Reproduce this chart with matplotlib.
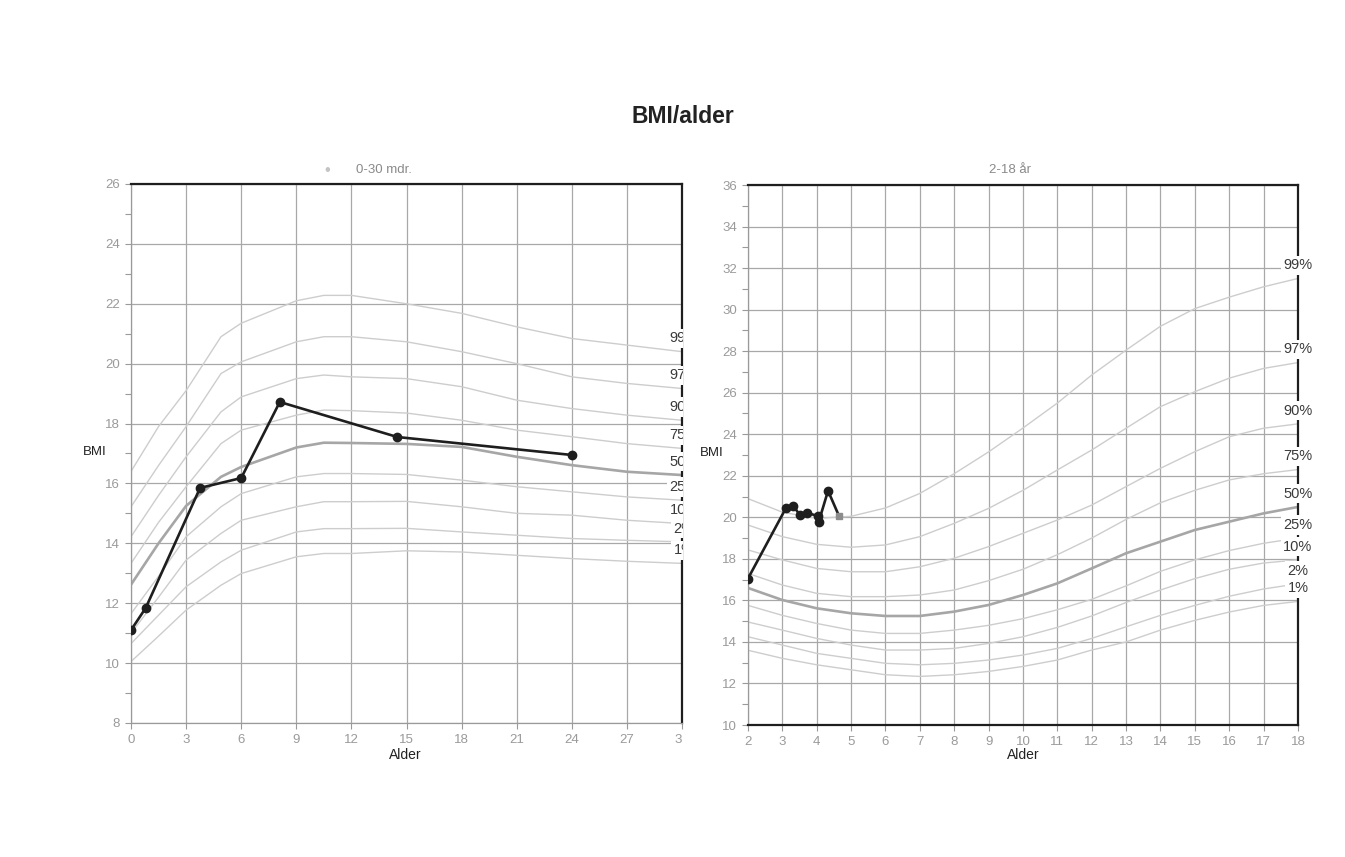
import matplotlib
matplotlib.use("Agg")
import matplotlib.pyplot as plt
from matplotlib.transforms import Bbox, TransformedBbox

plt.rcParams["font.family"] = ["Liberation Sans", "DejaVu Sans"]

# ---- 0-30 months: reference percentiles (BMI) ----
months = [0, 1.5, 3, 4.9, 6, 9, 10.5, 12, 15, 18, 21, 24, 27, 30]
m_p99 = [16.4, 17.9, 19.1, 20.9, 21.35, 22.1, 22.28, 22.28, 22.0, 21.68, 21.23, 20.84, 20.62, 20.4]
m_p97 = [15.22, 16.6, 17.9, 19.67, 20.06, 20.73, 20.9, 20.9, 20.73, 20.4, 20.0, 19.56, 19.34, 19.17]
m_p90 = [14.22, 15.6, 16.89, 18.39, 18.89, 19.5, 19.62, 19.56, 19.5, 19.23, 18.78, 18.5, 18.28, 18.11]
m_p75 = [13.33, 14.7, 15.89, 17.33, 17.78, 18.28, 18.45, 18.43, 18.35, 18.11, 17.78, 17.56, 17.33, 17.17]
m_p50 = [12.62, 14.0, 15.25, 16.22, 16.55, 17.2, 17.36, 17.35, 17.32, 17.22, 16.89, 16.61, 16.39, 16.28]
m_p25 = [11.65, 12.9, 14.22, 15.22, 15.66, 16.22, 16.33, 16.33, 16.3, 16.11, 15.89, 15.72, 15.55, 15.44]
m_p10 = [11.0, 12.2, 13.44, 14.33, 14.77, 15.22, 15.39, 15.39, 15.4, 15.22, 15.0, 14.94, 14.77, 14.66]
m_p2 = [10.65, 11.6, 12.55, 13.38, 13.77, 14.38, 14.49, 14.49, 14.5, 14.38, 14.27, 14.16, 14.1, 14.05]
m_p1 = [10.05, 10.9, 11.77, 12.6, 12.99, 13.55, 13.66, 13.66, 13.75, 13.71, 13.6, 13.49, 13.4, 13.33]

# measurements, months
baby_age = [0, 0.8, 3.76, 6.0, 8.1, 14.5, 24.0]
baby_bmi = [11.1, 11.84, 15.85, 16.18, 18.72, 17.55, 16.95]

# ---- 2-18 years: reference percentiles (BMI) ----
years = [2, 3, 4, 5, 6, 7, 8, 9, 10, 11, 12, 13, 14, 15, 16, 17, 18]
y_p99 = [20.9, 20.25, 19.95, 20.05, 20.45, 21.15, 22.1, 23.15, 24.3, 25.5, 26.85, 28.05, 29.2, 30.05, 30.6, 31.1, 31.5]
y_p97 = [19.63, 19.07, 18.7, 18.56, 18.67, 19.07, 19.71, 20.43, 21.3, 22.28, 23.24, 24.29, 25.33, 26.05, 26.7, 27.17, 27.45]
y_p90 = [18.43, 17.95, 17.54, 17.38, 17.38, 17.62, 18.03, 18.59, 19.23, 19.87, 20.59, 21.48, 22.36, 23.16, 23.88, 24.29, 24.5]
y_p75 = [17.3, 16.74, 16.34, 16.18, 16.18, 16.26, 16.5, 16.95, 17.5, 18.2, 19.0, 19.9, 20.7, 21.3, 21.8, 22.1, 22.3]
y_p50 = [16.6, 16.02, 15.62, 15.38, 15.25, 15.25, 15.46, 15.78, 16.26, 16.82, 17.54, 18.27, 18.83, 19.39, 19.79, 20.19, 20.5]
y_p25 = [15.76, 15.28, 14.89, 14.57, 14.41, 14.41, 14.57, 14.8, 15.12, 15.55, 16.05, 16.7, 17.4, 17.95, 18.4, 18.75, 19.0]
y_p10 = [14.96, 14.57, 14.17, 13.85, 13.61, 13.61, 13.69, 13.93, 14.25, 14.7, 15.25, 15.9, 16.5, 17.05, 17.5, 17.8, 17.95]
y_p2 = [14.25, 13.85, 13.45, 13.21, 12.97, 12.9, 12.97, 13.13, 13.37, 13.69, 14.17, 14.73, 15.28, 15.76, 16.2, 16.55, 16.8]
y_p1 = [13.6, 13.21, 12.9, 12.66, 12.42, 12.34, 12.42, 12.58, 12.82, 13.13, 13.61, 14.0, 14.57, 15.04, 15.44, 15.76, 15.95]

kid_age = [2.0, 3.1, 3.32, 3.51, 3.72, 4.03, 4.06, 4.33, 4.65]
kid_bmi = [17.05, 20.43, 20.55, 20.11, 20.22, 20.06, 19.79, 21.28, 20.06]

pct_names = ["99%", "97%", "90%", "75%", "50%", "25%", "10%", "2%", "1%"]
infant_curves = [m_p99, m_p97, m_p90, m_p75, m_p50, m_p25, m_p10, m_p2, m_p1]
child_curves = [y_p99, y_p97, y_p90, y_p75, y_p50, y_p25, y_p10, y_p2, y_p1]

GRID = "#a8a8a8"
CURVE = "#cdcdcd"
MEDIAN = "#a6a6a6"
TICK = "#9a9a9a"
DARK = "#1e1e1e"

fig = plt.figure(figsize=(13.45, 8.57), dpi=100)
ax1 = fig.add_axes([0.0974, 0.1564, 0.4097, 0.6289])
ax2 = fig.add_axes([0.5561, 0.1540, 0.4089, 0.6301])


def style_axes(ax, xticks, ymin, ymax, dark_bottom):
    ax.set_ylim(ymin, ymax)
    ax.set_xticks(xticks)
    ax.set_yticks(range(ymin, ymax + 1, 2))
    ax.set_yticks(range(ymin + 1, ymax, 2), minor=True)
    ax.grid(True, which="major", color=GRID, lw=0.9)
    ax.set_axisbelow(True)
    ax.tick_params(axis="both", which="both", direction="out", length=4,
                   width=0.8, color=TICK, labelcolor=TICK, labelsize=9.5, pad=4)
    ax.tick_params(axis="x", pad=4)
    for side in ("top", "right"):
        ax.spines[side].set_color(DARK)
        ax.spines[side].set_linewidth(1.6)
    ax.spines["left"].set_color(TICK)
    ax.spines["left"].set_linewidth(0.9)
    if dark_bottom:
        ax.spines["bottom"].set_color(DARK)
        ax.spines["bottom"].set_linewidth(1.6)
    else:
        ax.spines["bottom"].set_color(TICK)
        ax.spines["bottom"].set_linewidth(0.9)


def draw_curves(ax, x, curves):
    for name, vals in zip(pct_names, curves):
        if name == "50%":
            ax.plot(x, vals, color=MEDIAN, lw=1.9, zorder=2)
        else:
            ax.plot(x, vals, color=CURVE, lw=1.0, zorder=2)


def draw_labels(ax, x, curves, clip):
    for name, vals in zip(pct_names, curves):
        t = ax.annotate(name, xy=(x[-1], vals[-1]),
                        xytext=(1.5 if clip else 0, 9.5),
                        textcoords="offset points", ha="center", va="center",
                        fontsize=10.5, color="#3a3a3a", zorder=5,
                        annotation_clip=False,
                        bbox=dict(boxstyle="square,pad=0.18", fc="white", ec="none"))
        if clip:
            t.set_clip_box(TransformedBbox(Bbox([[0, 0], [1.002, 1]]), ax.transAxes))
            t.set_clip_on(True)
        else:
            t.set_clip_on(False)


# left panel: 0-30 months
style_axes(ax1, list(range(0, 31, 3)), 8, 26, dark_bottom=False)
ax1.set_xlim(0, 30)
draw_curves(ax1, months, infant_curves)
draw_labels(ax1, months, infant_curves, clip=True)
ax1.plot(baby_age, baby_bmi, color=DARK, lw=1.9, marker="o", ms=6, zorder=4)
last = ax1.xaxis.get_major_ticks()[-1].label1
last.set_clip_box(TransformedBbox(Bbox([[-1, -1], [1.0005, 1]]), ax1.transAxes))
last.set_clip_on(True)

# right panel: 2-18 years
style_axes(ax2, list(range(2, 19)), 10, 36, dark_bottom=True)
ax2.set_xlim(2, 18)
draw_curves(ax2, years, child_curves)
draw_labels(ax2, years, child_curves, clip=False)
ax2.plot(kid_age, kid_bmi, color=DARK, lw=1.9, zorder=4)
ax2.plot(kid_age[:-1], kid_bmi[:-1], ls="none", color=DARK, marker="o", ms=6, zorder=4)
ax2.plot(kid_age[-1:], kid_bmi[-1:], ls="none", color="#8c8c8c", marker="s", ms=4, zorder=4)

# titles and axis captions
fig.text(0.508, 0.8635, "BMI/alder", ha="center", va="center",
         fontsize=16.5, fontweight="bold", color="#222222")
fig.text(0.2435, 0.8016, "\u2022", ha="center", va="center", fontsize=12, color="#c4c4c4")
fig.text(0.2855, 0.8016, "0-30 mdr.", ha="center", va="center", fontsize=9.5, color="#8a8a8a")
fig.text(0.7510, 0.8016, "2-18 år", ha="center", va="center", fontsize=9.5, color="#8a8a8a")
fig.text(0.0706, 0.4726, "BMI", ha="center", va="center", fontsize=9.5, color="#222222")
fig.text(0.5294, 0.4715, "BMI", ha="center", va="center", fontsize=9.5, color="#222222")
fig.text(0.3010, 0.1190, "Alder", ha="center", va="center", fontsize=10, color="#222222")
fig.text(0.7606, 0.1190, "Alder", ha="center", va="center", fontsize=10, color="#222222")

fig.savefig("out.png", dpi=100, facecolor="white")
